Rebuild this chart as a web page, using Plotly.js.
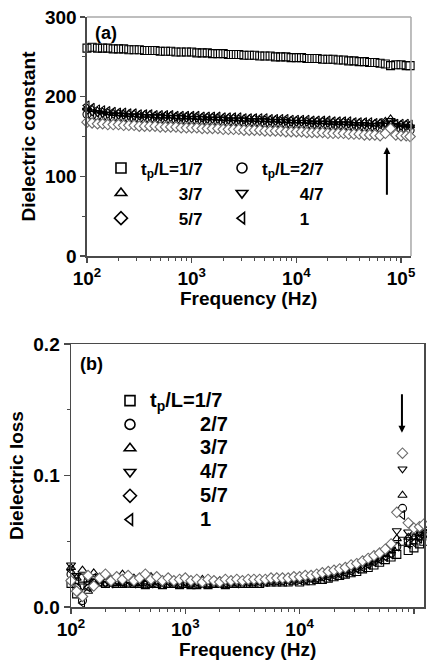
<!DOCTYPE html>
<html><head><meta charset="utf-8">
<script src="https://cdn.plot.ly/plotly-3.0.1.min.js"></script>
<style>html,body{margin:0;padding:0;background:#fff;}#chart{width:427px;height:665px;}</style>
</head><body><div id="chart"></div>
<script>
const freq = [100,112,126,141,158,178,200,224,251,282,316,355,398,447,501,562,631,708,794,891,
1000,1120,1260,1410,1580,1780,2000,2240,2510,2820,3160,3550,3980,4470,5010,5620,6310,7080,7940,8910,
10000,11200,12600,14100,15800,17800,20000,22400,25100,28200,31600,35500,39800,44700,50100,56200,63100,70800,79400,89100,
100000,112000,122000];

const seriesLabels = ['1/7','2/7','3/7','4/7','5/7','1'];
const xTitle = 'Frequency (Hz)';

// (a) dielectric constant
const eps_1_7 = [261,262,261,261,261,260,260,260,259,259,259,258,258,258,257,257,257,256,256,256,
256,255,255,255,254,254,254,253,253,253,252,252,252,251,251,251,250,250,250,249,
249,249,248,248,248,247,247,247,246,246,245,245,244,244,243,243,242,241,239,240,
240,239,239];
const eps_2_7 = [178,177,176,175,175,174,174,174,173,173,173,172,172,172,172,171,171,171,171,170,
170,170,170,169,169,169,169,168,168,168,168,167,167,167,167,166,166,166,166,165,
165,165,165,164,164,164,164,163,163,163,163,162,162,162,161,161,161,162,164,160,
159,159,158];
const eps_3_7 = [186,184,182,181,180,179,179,178,178,178,177,177,177,176,176,176,176,175,175,175,
175,174,174,174,174,173,173,173,173,172,172,172,172,171,171,171,171,170,170,170,
170,170,169,169,169,169,168,168,168,168,167,167,167,167,166,166,167,169,172,166,
165,165,164];
const eps_4_7 = [183,181,180,179,178,178,177,177,176,176,176,175,175,175,175,174,174,174,174,173,
173,173,173,172,172,172,172,171,171,171,171,170,170,170,170,169,169,169,169,168,
168,168,168,167,167,167,167,166,166,166,166,165,165,165,164,164,165,166,170,164,
163,162,162];
const eps_5_7 = [168,167,166,166,165,165,165,164,164,164,163,163,163,163,162,162,162,162,161,161,
161,161,160,160,160,160,159,159,159,159,158,158,158,158,157,157,157,157,156,156,
156,156,155,155,155,155,154,154,154,154,153,153,153,152,152,152,151,154,160,152,
151,151,150];
const eps_1 = [189,186,184,183,182,181,180,180,179,179,178,178,178,177,177,177,177,176,176,176,
176,176,175,175,175,175,174,174,174,174,173,173,173,173,173,172,172,172,172,171,
171,171,171,170,170,170,170,169,169,169,169,168,168,168,168,167,167,167,166,166,
166,166,165];

// (b) dielectric loss
const loss_1_7 = [0.018,0.010,0.022,0.016,0.020,0.019,0.018,0.019,0.018,0.018,0.019,0.018,0.018,0.017,0.018,0.018,0.017,0.018,0.018,0.017,
0.018,0.017,0.017,0.018,0.017,0.018,0.018,0.017,0.018,0.018,0.018,0.018,0.018,0.018,0.019,0.019,0.019,0.019,0.019,0.020,
0.019,0.020,0.020,0.021,0.021,0.022,0.023,0.024,0.025,0.026,0.027,0.029,0.030,0.032,0.034,0.036,0.038,0.040,0.050,0.043,
0.045,0.048,0.050];
const loss_2_7 = [0.025,0.015,0.005,0.020,0.018,0.021,0.019,0.020,0.019,0.019,0.018,0.019,0.019,0.018,0.019,0.018,0.019,0.018,0.019,0.018,
0.019,0.018,0.018,0.019,0.018,0.018,0.019,0.018,0.019,0.019,0.019,0.019,0.019,0.020,0.020,0.020,0.020,0.020,0.021,0.021,
0.021,0.021,0.022,0.022,0.023,0.024,0.025,0.026,0.027,0.028,0.030,0.031,0.033,0.035,0.037,0.039,0.041,0.046,0.075,0.050,
0.051,0.054,0.056];
const loss_3_7 = [0.030,0.022,0.028,0.012,0.026,0.020,0.024,0.021,0.018,0.025,0.020,0.022,0.018,0.021,0.023,0.019,0.020,0.022,0.019,0.020,
0.021,0.019,0.020,0.021,0.019,0.020,0.020,0.019,0.020,0.020,0.020,0.020,0.020,0.021,0.021,0.021,0.021,0.022,0.022,0.022,
0.022,0.023,0.023,0.024,0.025,0.025,0.026,0.027,0.028,0.030,0.031,0.033,0.034,0.036,0.038,0.040,0.043,0.052,0.085,0.053,
0.053,0.056,0.058];
const loss_4_7 = [0.032,0.024,0.016,0.022,0.020,0.023,0.018,0.021,0.020,0.019,0.021,0.019,0.020,0.019,0.020,0.020,0.019,0.020,0.019,0.020,
0.019,0.020,0.019,0.019,0.020,0.019,0.019,0.020,0.019,0.020,0.020,0.020,0.020,0.020,0.021,0.021,0.021,0.021,0.022,0.022,
0.022,0.023,0.023,0.024,0.024,0.025,0.026,0.027,0.028,0.029,0.031,0.032,0.034,0.036,0.038,0.041,0.044,0.058,0.105,0.057,
0.054,0.057,0.059];
const loss_5_7 = [0.020,0.012,0.008,0.024,0.016,0.022,0.025,0.020,0.023,0.021,0.024,0.020,0.022,0.025,0.021,0.023,0.020,0.022,0.020,0.021,
0.022,0.020,0.021,0.019,0.021,0.020,0.019,0.021,0.020,0.021,0.020,0.021,0.021,0.021,0.021,0.022,0.022,0.022,0.022,0.023,
0.023,0.024,0.024,0.025,0.026,0.027,0.028,0.029,0.030,0.032,0.033,0.035,0.037,0.039,0.041,0.044,0.048,0.072,0.117,0.064,
0.060,0.061,0.063];
const loss_1 = [0.028,0.020,0.003,0.015,0.022,0.019,0.021,0.018,0.020,0.019,0.020,0.018,0.019,0.020,0.018,0.019,0.018,0.019,0.019,0.018,
0.019,0.018,0.019,0.018,0.018,0.019,0.018,0.018,0.019,0.018,0.019,0.019,0.019,0.019,0.019,0.020,0.020,0.020,0.020,0.021,
0.021,0.021,0.022,0.022,0.023,0.023,0.024,0.025,0.026,0.027,0.029,0.030,0.032,0.034,0.036,0.038,0.040,0.046,0.070,0.048,
0.049,0.052,0.054];

const epsSeries = [eps_1_7, eps_2_7, eps_3_7, eps_4_7, eps_5_7, eps_1];
const lossSeries = [loss_1_7, loss_2_7, loss_3_7, loss_4_7, loss_5_7, loss_1];

const xTickVals = [100, 1000, 10000, 100000];
const xTickText = ['10<sup>2</sup>', '10<sup>3</sup>', '10<sup>4</sup>', '10<sup>5</sup>'];
const xMinorVals = [200,300,400,500,600,700,800,900,2000,3000,4000,5000,6000,7000,8000,9000,
  20000,30000,40000,50000,60000,70000,80000,90000];
const epsTicks = [0, 100, 200, 300];
const epsMinor = [50, 150, 250];
const lossTicks = [0, 0.1, 0.2];
const lossTickText = ['0.0', '0.1', '0.2'];
const lossMinor = [0.05, 0.15];

const NB = '\u00a0';
const symbols = ['square-open','circle-open','triangle-up-open','triangle-down-open','diamond','triangle-left-open'];
const fills = ['#000','#000','#000','#000','#fff','#000'];
const lines = ['#000','#000','#000','#000','#6a6a6a','#000'];
const legendSymbols = ['square-open','circle-open','triangle-up-open','triangle-down-open','diamond-open','triangle-left-open'];
const topLegend = ['legend','legend3','legend','legend3','legend','legend3'];
const drawOrder = [0,1,2,3,5,4];

function topName(i){ return i < 2 ? 't<sub>p</sub>/L=' + seriesLabels[i] : NB.repeat(8) + seriesLabels[i]; }
function botName(i){ return '<span style="font-size:20px">' + (i === 0 ? 't<sub>p</sub>/L=' + seriesLabels[i] : NB.repeat(9) + seriesLabels[i]) + '</span>'; }

const data = [];
drawOrder.forEach(function(i){
  data.push({
    type:'scatter', mode:'markers', x:freq, y:epsSeries[i], xaxis:'x', yaxis:'y',
    name: topName(i), showlegend:false, cliponaxis:false, hoverinfo:'skip',
    marker:{symbol:symbols[i], size:8, color:fills[i], line:{color:lines[i], width:1.1}}
  });
});
drawOrder.forEach(function(i){
  data.push({
    type:'scatter', mode:'markers', x:freq, y:lossSeries[i], xaxis:'x2', yaxis:'y2',
    name: botName(i), showlegend:false, cliponaxis:false, hoverinfo:'skip',
    marker:{symbol:symbols[i], size:8, color:fills[i], line:{color:lines[i], width:1.1}}
  });
});
// legend entries (one per series, for each panel)
seriesLabels.forEach(function(lbl, i){
  data.push({type:'scatter', mode:'markers', x:[null], y:[null], xaxis:'x', yaxis:'y',
    name: topName(i), legend: topLegend[i], legendrank: i+1, showlegend:true,
    marker:{symbol:legendSymbols[i], size:10, color:'#000', line:{color:'#000', width:1.6}}});
});
seriesLabels.forEach(function(lbl, i){
  data.push({type:'scatter', mode:'markers', x:[null], y:[null], xaxis:'x2', yaxis:'y2',
    name: botName(i), legend:'legend2', legendrank: i+1, showlegend:true,
    marker:{symbol:legendSymbols[i], size:10, color:'#000', line:{color:'#000', width:1.6}}});
});

const axisCol = '#4a4a4a';
const FAM = 'Liberation Sans, Arial, sans-serif';
const tf = {family:FAM, size:19, color:'#000', weight:'bold'};
function xAx(domain, anchor, range){
  return {domain:domain, anchor:anchor, type:'log', range:range, tickmode:'array', tickvals:xTickVals, ticktext:xTickText,
    ticks:'outside', ticklen:5, tickwidth:1.5, tickcolor:axisCol, showline:true, linecolor:axisCol, linewidth:1.5,
    showgrid:false, zeroline:false, tickfont:tf,
    minor:{tickmode:'array', tickvals:xMinorVals, ticks:'outside', ticklen:3, tickwidth:1, tickcolor:axisCol, showgrid:false}};
}
function leg(x, y, size){
  return {x:x, y:y, xanchor:'left', yanchor:'top', orientation:'v', bgcolor:'rgba(0,0,0,0)', borderwidth:0,
    font:{family:FAM, size:size, color:'#000', weight:'bold'}, traceorder:'normal'};
}

const layout = {
  width:427, height:665, margin:{l:0, r:0, t:0, b:0}, paper_bgcolor:'#fff', plot_bgcolor:'#fff',
  font:{family:FAM, size:19, color:'#000'},
  showlegend:true,
  xaxis: xAx([0.2037, 0.9625], 'y', [2, 5.095]),
  yaxis: {domain:[0.615, 0.9744], anchor:'x', range:[0, 300], tickmode:'array', tickvals:epsTicks,
    ticks:'outside', ticklen:5, tickwidth:1.5, tickcolor:axisCol, showline:true, linecolor:axisCol, linewidth:1.5,
    showgrid:false, zeroline:false, tickfont:tf,
    minor:{tickmode:'array', tickvals:epsMinor, ticks:'outside', ticklen:3, tickwidth:1, tickcolor:axisCol},
    title:{text:'Dielectric constant', font:tf, standoff:4}},
  xaxis2: Object.assign(xAx([0.1663, 0.993], 'y2', [2, 5.088]), {mirror:true}),
  yaxis2: {domain:[0.0872, 0.4827], anchor:'x2', range:[0, 0.2], tickmode:'array', tickvals:lossTicks, ticktext:lossTickText,
    ticks:'outside', ticklen:6, tickwidth:1.5, tickcolor:axisCol, showline:true, linecolor:axisCol, linewidth:1.5, mirror:true,
    showgrid:false, zeroline:false, tickfont:tf,
    minor:{tickmode:'array', tickvals:lossMinor, ticks:'outside', ticklen:3, tickwidth:1, tickcolor:axisCol},
    title:{text:'Dielectric loss', font:tf, standoff:4}},
  legend: leg(0.2365, 0.7738, 17),
  legend3: leg(0.5199, 0.7738, 17),
  legend2: leg(0.2576, 0.4230, 16),
  shapes:[
    {type:'line', xref:'x domain', yref:'y domain', x0:0, x1:1, y0:1, y1:1, line:{color:'#a8a8a8', width:1.5}},
    {type:'line', xref:'x domain', yref:'y domain', x0:1, x1:1, y0:0, y1:1, line:{color:'#a8a8a8', width:1.5}}
  ],
  annotations:[
    {text:xTitle, xref:'x domain', yref:'y domain', x:0.5, y:-0.176, xanchor:'center', yanchor:'middle', showarrow:false, font:tf},
    {text:xTitle, xref:'x2 domain', yref:'y2 domain', x:0.5, y:-0.163, xanchor:'center', yanchor:'middle', showarrow:false, font:tf},
    {text:'(a)', xref:'x domain', yref:'y domain', x:0.02, y:0.985, xanchor:'left', yanchor:'top', showarrow:false,
      font:{family:FAM, size:18, color:'#000', weight:'bold'}},
    {text:'(b)', xref:'x2 domain', yref:'y2 domain', x:0.02, y:0.97, xanchor:'left', yanchor:'top', showarrow:false,
      font:{family:FAM, size:18, color:'#000', weight:'bold'}},
    {text:'', xref:'x', yref:'y', x:4.865, y:137, axref:'x', ayref:'y', ax:4.865, ay:75, showarrow:true,
      arrowhead:2, arrowsize:0.7, arrowwidth:2, arrowcolor:'#000', standoff:0, startstandoff:0},
    {text:'', xref:'x2', yref:'y2', x:4.895, y:0.1325, axref:'x2', ayref:'y2', ax:4.895, ay:0.163, showarrow:true,
      arrowhead:2, arrowsize:0.7, arrowwidth:2, arrowcolor:'#000', standoff:0, startstandoff:0}
  ]
};

Plotly.newPlot('chart', data, layout, {staticPlot:true, displayModeBar:false});
</script>
</body></html>
